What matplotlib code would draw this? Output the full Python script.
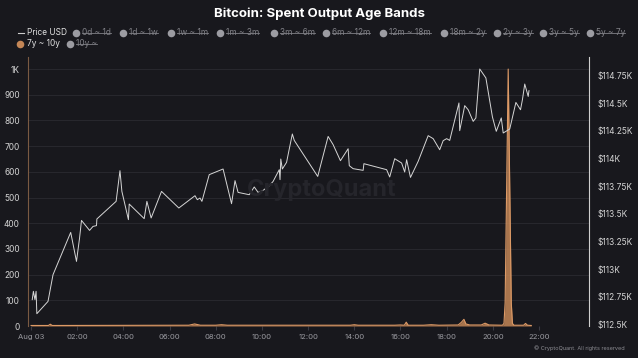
import matplotlib
matplotlib.use("Agg")
import matplotlib.pyplot as plt
import matplotlib.dates as mdates
import pandas as pd

# price USD (time on Aug 03, price)
price_times = ["00:03", "00:06", "00:10", "00:13", "00:15", "00:44", "00:57", "01:43", "01:58",
               "02:06", "02:11", "02:32", "02:41", "02:50", "02:51", "03:41", "03:51", "03:56",
               "04:13", "04:15", "04:54", "05:01", "05:12", "05:39", "06:24", "07:06", "07:12",
               "07:19", "07:24", "07:43", "08:19", "08:41", "08:50", "08:58", "09:27", "09:40",
               "09:50", "10:03", "10:19", "10:29", "10:45", "10:47", "10:49", "10:53", "11:04",
               "11:11", "11:19", "11:24", "12:25", "12:52", "13:05", "13:24", "13:44", "13:47",
               "13:57", "14:23", "14:25", "15:24", "15:32", "15:45", "16:03", "16:11", "16:16",
               "16:26", "16:46", "17:12", "17:25", "17:42", "17:51", "18:00", "18:08", "18:32",
               "18:34", "18:47", "18:56", "19:09", "19:16", "19:26", "19:42", "19:59", "20:09",
               "20:22", "20:27", "20:44", "21:00", "21:12", "21:17", "21:23", "21:32", "21:34"]
price_usd = [112726, 112801, 112726, 112801, 112599, 112710, 112951, 113333, 113071,
             113282, 113441, 113351, 113387, 113394, 113454, 113613, 113890, 113703,
             113448, 113589, 113457, 113613, 113463, 113703, 113553, 113664, 113628,
             113643, 113613, 113854, 113905, 113592, 113800, 113694, 113673, 113743,
             113694, 113712, 113754, 113793, 113899, 113809, 113995, 113905, 113965,
             114086, 114221, 114163, 113838, 114199, 114125, 113980, 114088, 113935,
             113908, 113893, 113953, 113899, 113833, 113998, 113959, 113878, 113989,
             113829, 113974, 114206, 114179, 114079, 114161, 114179, 114163, 114501,
             114251, 114477, 114440, 114335, 114366, 114808, 114727, 114375, 114245,
             114366, 114230, 114266, 114506, 114440, 114531, 114672, 114560, 114612]

# 7y ~ 10y spent output (BTC)
band_times = ["00:00", "00:45", "00:50", "00:55", "06:50", "07:05", "07:20", "08:00", "08:15",
              "08:30", "13:50", "14:00", "14:10", "15:45", "16:00", "16:10", "16:15", "16:20",
              "17:00", "17:20", "17:40", "18:30", "18:38", "18:45", "18:50", "19:00", "19:30",
              "19:40", "19:50", "20:25", "20:29", "20:32", "20:40", "20:48", "20:51", "20:55",
              "21:20", "21:25", "21:30", "21:40"]
band_7y_10y = [2, 2, 7, 2, 3, 8, 3, 3, 5,
               3, 3, 5, 3, 3, 4, 3, 15, 3,
               3, 5, 3, 4, 14, 26, 8, 4, 4,
               11, 4, 3, 10, 90, 1000, 90, 10, 3,
               3, 10, 3, 2]

legend_row1 = ["0d ~ 1d", "1d ~ 1w", "1w ~ 1m", "1m ~ 3m", "3m ~ 6m", "6m ~ 12m",
               "12m ~ 18m", "18m ~ 2y", "2y ~ 3y", "3y ~ 5y", "5y ~ 7y"]
legend_row1_x = [76, 123, 171, 220, 274, 326, 383, 444, 497, 543, 590]

left_ticks = [0, 100, 200, 300, 400, 500, 600, 700, 800, 900, 1000]
left_labels = ["0", "100", "200", "300", "400", "500", "600", "700", "800", "900", "1K"]
right_ticks = [112500, 112750, 113000, 113250, 113500, 113750, 114000, 114250, 114500, 114750]
right_labels = ["$112.5K", "$112.75K", "$113K", "$113.25K", "$113.5K", "$113.75K",
                "$114K", "$114.25K", "$114.5K", "$114.75K"]

BG = "#18181d"
ORANGE = "#c48656"
FONT = ["Inter", "DejaVu Sans"]
plt.rcParams["font.family"] = FONT

day = "2025-08-03 "
pt = pd.to_datetime([day + t for t in price_times])
bt = pd.to_datetime([day + t for t in band_times])

fig = plt.figure(figsize=(6.38, 3.58), dpi=100, facecolor=BG)
W, H = 638, 358
ax = fig.add_axes([28 / W, 1 - 326 / H, (589 - 28) / W, (326 - 57) / H])
ax.set_facecolor(BG)

ax.fill_between(bt, band_7y_10y, 0, color=ORANGE, alpha=0.85, lw=0, zorder=2)
ax.plot(bt, band_7y_10y, color="#dd9a66", lw=0.8, zorder=3)
ax.set_ylim(0, 1047)
ax.set_xlim(pd.Timestamp("2025-08-02 23:52"), pd.Timestamp("2025-08-04 00:10"))
ax.set_yticks(left_ticks)
ax.set_yticklabels(left_labels)
ax.grid(axis="y", color="#2a2a31", lw=0.6)
ax.set_axisbelow(True)

ax2 = ax.twinx()
ax2.plot(pt, price_usd, color="#d6d6d6", lw=0.7, zorder=4)
ax2.set_ylim(112488, 114916)
ax2.set_yticks(right_ticks)
ax2.set_yticklabels(right_labels)

ax.xaxis.set_major_locator(mdates.HourLocator(byhour=range(0, 24, 2)))
ax.xaxis.set_major_formatter(mdates.DateFormatter("%H:%M"))
ax.set_xticks(ax.get_xticks()[:12])
xl = [mdates.num2date(v).strftime("%H:%M") for v in ax.get_xticks()]
xl[0] = "Aug 03"
ax.set_xticklabels(xl)

for a in (ax, ax2):
    for s in a.spines.values():
        s.set_visible(False)
ax.spines["left"].set_visible(True)
ax.spines["left"].set_color("#7a5a42")
ax2.spines["right"].set_visible(True)
ax2.spines["right"].set_color("#cfcfcf")
ax2.spines["right"].set_linewidth(0.8)

ax.tick_params(axis="y", length=0, pad=6, labelsize=6, labelcolor="#d4d4d4")
ax2.tick_params(axis="y", length=0, pad=6, labelsize=6, labelcolor="#d4d4d4")
ax.tick_params(axis="x", length=3, color="#3a3a42", pad=3, labelsize=5.5, labelcolor="#9a9aa0")

# overlay in pixel coords for title, legend, watermark
ov = fig.add_axes([0, 0, 1, 1], facecolor="none")
ov.set_xlim(0, W)
ov.set_ylim(H, 0)
ov.axis("off")

ov.text(319, 14, "Bitcoin: Spent Output Age Bands", ha="center", va="center",
        fontsize=9.5, fontweight="bold", color="white")
ov.text(322, 190, "CryptoQuant", ha="center", va="center", fontsize=17,
        fontweight="bold", color="#25252b", zorder=0)

ov.plot([18, 24], [32.5, 32.5], color="#cccccc", lw=0.8)
ov.text(27, 32.5, "Price USD", va="center", fontsize=6, color="#e0e0e0")

strike = []
for lab, x in zip(legend_row1, legend_row1_x):
    ov.scatter([x], [32.5], s=30, color="#9c9ca2", lw=0)
    strike.append(ov.text(x + 6, 32.5, lab, va="center", fontsize=6, color="#818187"))
ov.scatter([20], [43.5], s=30, color=ORANGE, lw=0)
ov.text(27, 43.5, "7y ~ 10y", va="center", fontsize=6, color="#e0e0e0")
ov.scatter([70], [43.5], s=30, color="#9c9ca2", lw=0)
strike.append(ov.text(76, 43.5, "10y ~", va="center", fontsize=6, color="#818187"))

ov.text(625, 348, "© CryptoQuant. All rights reserved", ha="right", va="center",
        fontsize=4, color="#8a8a90")

fig.canvas.draw()
r = fig.canvas.get_renderer()
for t in strike:
    bb = t.get_window_extent(r)
    y = t.get_position()[1]
    ov.plot([bb.x0, bb.x1], [y, y], color="#818187", lw=0.6)

fig.savefig("out.png", dpi=100, facecolor=BG)
